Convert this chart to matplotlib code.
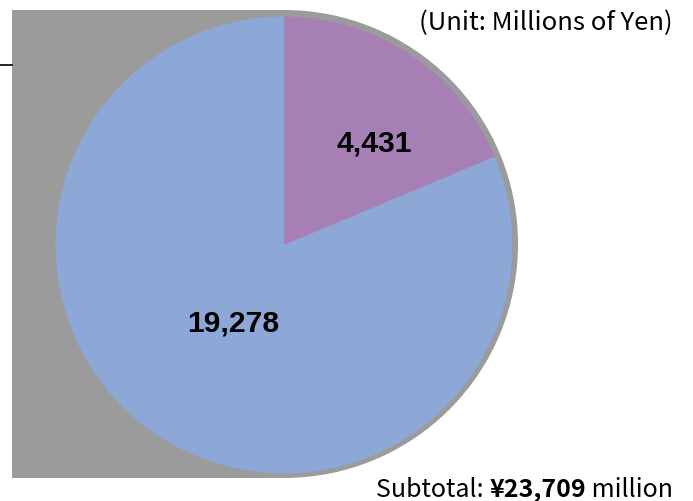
import matplotlib
matplotlib.use("Agg")
import matplotlib.pyplot as plt
from matplotlib.patches import Rectangle, Circle

# data
labels = ["4,431", "19,278"]
values = [4431, 19278]
colors = ["#A680B5", "#8DA8D6"]
unit_text = "(Unit: Millions of Yen)"
subtotal_parts = ["Subtotal: ", "\u00a523,709", " million"]

W, H = 693, 502
fig = plt.figure(figsize=(W / 100, H / 100), dpi=100)
ax = fig.add_axes([0, 0, 1, 1])

gray = "#9B9B9B"
cx, cy, r = 284, H - 246, 228.5

# gray backdrop and shadow
ax.add_patch(Rectangle((12, H - 479), 273, 468, color=gray, lw=0, zorder=0))
ax.add_patch(Circle((284, H - 245), 234, color=gray, lw=0, zorder=0))
ax.plot([0, 12], [H - 66, H - 66], color="black", lw=1.2, zorder=1)

wedges, texts = ax.pie(values, colors=colors, startangle=90, counterclock=False,
                       center=(cx, cy), radius=r, frame=True,
                       wedgeprops=dict(linewidth=0))
ax.set_xlim(0, W)
ax.set_ylim(0, H)
ax.set_aspect("equal")
ax.axis("off")

ax.text(374, H - 143, labels[0], ha="center", va="center", fontsize=21.6,
        fontweight="bold", family="Liberation Sans")
ax.text(233, H - 323, labels[1], ha="center", va="center", fontsize=21.6,
        fontweight="bold", family="Liberation Sans")

ax.text(673, H - 23, unit_text, ha="right", va="center", fontsize=18.5,
        family=["Noto Sans CJK JP", "DejaVu Sans"])

font = ["Noto Sans CJK JP", "DejaVu Sans"]
t3 = ax.text(673, H - 490, subtotal_parts[2], ha="right", va="center",
             fontsize=18, family=font)
t2 = ax.annotate(subtotal_parts[1], xy=(0, 0.5), xycoords=t3, ha="right",
                 va="center", fontsize=18, fontweight="bold", family=font)
t1 = ax.annotate(subtotal_parts[0], xy=(0, 0.5), xycoords=t2, ha="right",
                 va="center", fontsize=18, family=font)

fig.savefig("out.png", dpi=100)
